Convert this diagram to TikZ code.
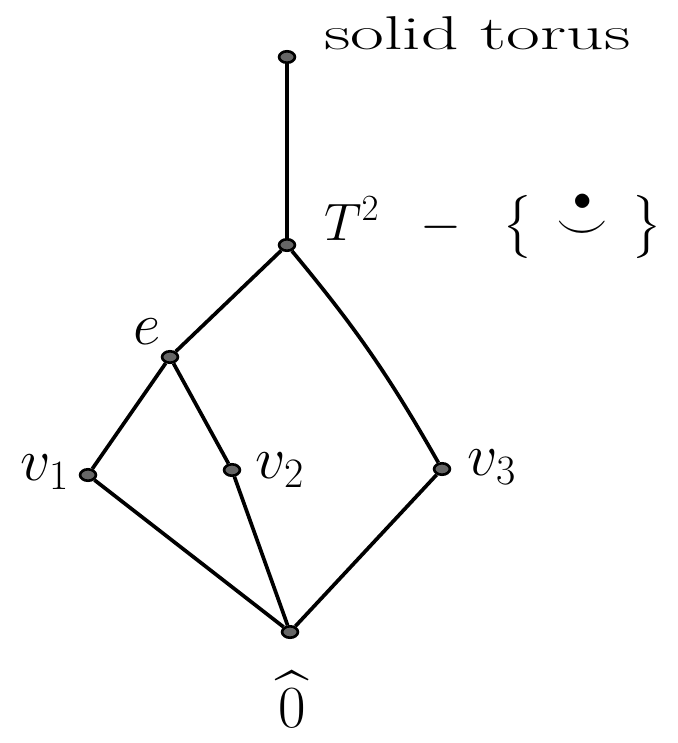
\documentclass[tikz,border=0pt]{standalone}
\usepackage{fix-cm}
\usepackage{amsmath,amssymb}
\usetikzlibrary{arrows.meta,shapes.geometric}

\begin{document}
\begin{tikzpicture}[x={(0.02cm,0cm)},y={(0cm,-0.02cm)},
    vert/.style={ellipse,draw,line width=1.5pt,fill=black!60,inner sep=0pt,
                 minimum width=9pt,minimum height=6.5pt},
    edge/.style={line width=2.1pt},
    lab/.style={font=\fontsize{34}{40}\selectfont}]
  \useasboundingbox (0,0) rectangle (677,743);
  % points of the poset
  \node[vert] (torus) at (287,57) {};
  \node[vert] (punct) at (287,245) {};
  \node[vert] (e) at (170,357) {};
  \node[vert] (v1) at (88,475) {};
  \node[vert] (v2) at (232,470) {};
  \node[vert] (v3) at (442,469) {};
  \node[vert] (zero) at (290,632) {};
  % covering relations
  \draw[edge] (torus) -- (punct);
  \draw[edge] (punct) -- (e);
  \draw[edge] (punct) to[bend left=5] (v3);
  \draw[edge] (e) -- (v1);
  \draw[edge] (e) -- (v2);
  \draw[edge] (v1) -- (zero);
  \draw[edge] (v2) -- (zero);
  \draw[edge] (v3) -- (zero);
  % labels
  \node[lab,anchor=base west,font=\fontsize{27}{32}\selectfont] (torusl)
    at (318,50) {\scalebox{1.55}[1]{solid\ torus}};
  \node[lab,anchor=base west,font=\fontsize{30}{36}\selectfont] (punctl)
    at (318,240) {$T^2\;\;-\;\;\bigl\{\;\,\overset{\bullet}{\smile}\;\,\bigr\}$};
  \node[lab] (el) at (147,332) {$e$};
  \node[lab] (v1l) at (45,472) {$v_1$};
  \node[lab] (v2l) at (280,470) {$v_2$};
  \node[lab] (v3l) at (492,467) {$v_3$};
  \node[lab,anchor=base] (zerol) at (292,727) {$\widehat{0}$};
\end{tikzpicture}
\end{document}
